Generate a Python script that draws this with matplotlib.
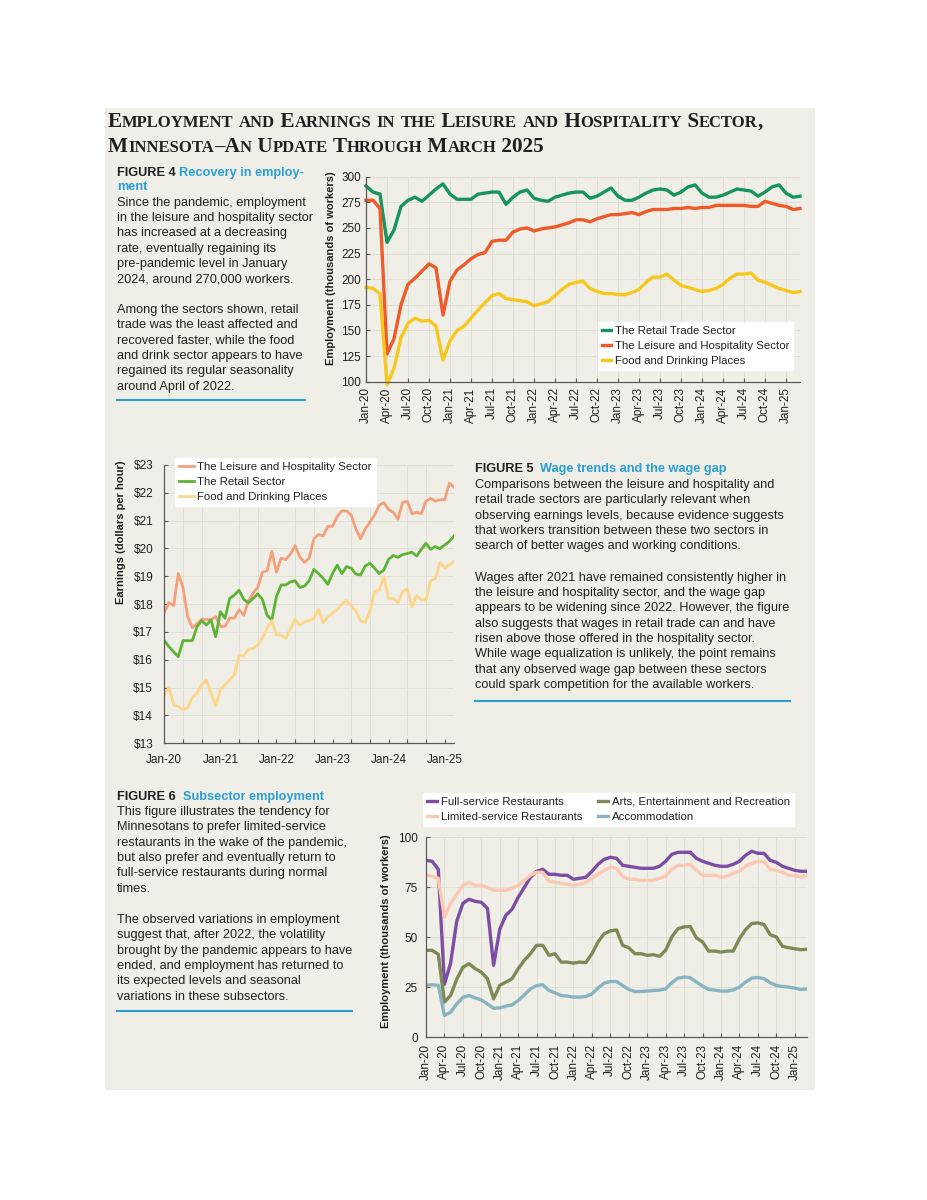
import matplotlib
matplotlib.use('Agg')
import matplotlib.pyplot as plt
from matplotlib.patches import Rectangle
from matplotlib.lines import Line2D

# ---------------- data (monthly, Jan-2020 .. Mar-2025) ----------------
quarter_labels = ['Jan-20', 'Apr-20', 'Jul-20', 'Oct-20', 'Jan-21', 'Apr-21', 'Jul-21', 'Oct-21',
                  'Jan-22', 'Apr-22', 'Jul-22', 'Oct-22', 'Jan-23', 'Apr-23', 'Jul-23', 'Oct-23',
                  'Jan-24', 'Apr-24', 'Jul-24', 'Oct-24', 'Jan-25']
year_labels = ['Jan-20', 'Jan-21', 'Jan-22', 'Jan-23', 'Jan-24', 'Jan-25']

# Figure 4: employment (thousands of workers)
retail_emp = [291, 285, 283, 236, 248, 271, 277, 280, 276, 282, 288, 293,
              283, 278, 278, 278, 283, 284, 285, 285, 273, 280, 285, 287,
              279, 277, 276, 280, 282, 284, 285, 285, 279, 281, 285, 289,
              281, 277, 277, 280, 284, 287, 288, 287, 282, 285, 290, 292,
              284, 280, 280, 282, 285, 288, 287, 286, 281, 285, 290, 292,
              284, 280, 281]
leisure_emp = [277, 277, 269, 127, 142, 175, 195, 201, 208, 215, 211, 165,
               198, 209, 214, 220, 224, 226, 237, 238, 238, 246, 249, 250,
               247, 249, 250, 251, 253, 255, 258, 258, 256, 259, 261, 263,
               263, 264, 265, 263, 266, 268, 268, 268, 269, 269, 270, 269,
               270, 270, 272, 272, 272, 272, 272, 271, 271, 276, 274, 272,
               271, 268, 269]
food_emp = [192, 191, 186, 97, 113, 143, 157, 162, 159, 160, 154, 121,
            140, 150, 154, 162, 170, 177, 184, 186, 181, 180, 179, 178,
            174, 176, 178, 184, 190, 195, 197, 198, 191, 188, 186, 186,
            185, 185, 187, 190, 197, 202, 202, 205, 199, 194, 192, 190,
            188, 189, 191, 195, 201, 205, 205, 206, 199, 197, 194, 191,
            189, 187, 188]

# Figure 5: earnings (dollars per hour)
leisure_wage = [17.7, 18.05, 17.95, 19.1, 18.6, 17.55, 17.15, 17.3, 17.45, 17.45, 17.45, 17.55,
                17.2, 17.2, 17.5, 17.5, 17.8, 17.6, 18.1, 18.4, 18.6, 19.15, 19.2, 19.9,
                19.15, 19.65, 19.6, 19.8, 20.1, 19.7, 19.5, 19.65, 20.35, 20.5, 20.45, 20.8,
                20.8, 21.15, 21.35, 21.35, 21.2, 20.7, 20.35, 20.7, 20.95, 21.2, 21.55, 21.65,
                21.4, 21.3, 21.05, 21.65, 21.7, 21.25, 21.3, 21.25, 21.7, 21.8, 21.7, 21.75,
                21.75, 22.35, 22.2]
retail_wage = [16.69, 16.47, 16.29, 16.11, 16.69, 16.69, 16.69, 17.19, 17.41, 17.25, 17.43, 16.83,
               17.73, 17.49, 18.21, 18.33, 18.5, 18.17, 18.05, 18.2, 18.37, 18.17, 17.6, 17.43,
               18.27, 18.69, 18.69, 18.8, 18.84, 18.6, 18.65, 18.84, 19.25, 19.1, 18.93, 18.71,
               19.1, 19.4, 19.1, 19.35, 19.29, 19.08, 19.05, 19.37, 19.47, 19.29, 19.1, 19.23,
               19.61, 19.75, 19.68, 19.78, 19.82, 19.87, 19.73, 19.97, 20.19, 19.97, 20.07, 19.99,
               20.13, 20.25, 20.45]
food_wage = [14.74, 15.01, 14.38, 14.32, 14.2, 14.29, 14.65, 14.8, 15.1, 15.28, 14.8, 14.34,
             14.92, 15.1, 15.28, 15.46, 16.17, 16.14, 16.38, 16.41, 16.53, 16.77, 17.13, 17.41,
             16.89, 16.89, 16.77, 17.13, 17.45, 17.25, 17.37, 17.41, 17.49, 17.81, 17.33, 17.55,
             17.67, 17.81, 18.0, 18.13, 17.95, 17.75, 17.4, 17.35, 17.75, 18.45, 18.5, 19.0,
             18.2, 18.2, 18.05, 18.45, 18.55, 17.9, 18.3, 18.15, 18.15, 18.85, 18.9, 19.5,
             19.3, 19.4, 19.55]

# Figure 6: subsector employment (thousands of workers)
full_service = [88.5, 88, 84, 26.5, 37, 58, 67, 69, 68, 67.5, 64.5, 36,
                54, 61, 64, 70, 75, 80, 83, 84, 81.5, 81.5, 81, 81,
                79, 79.5, 80, 83, 86.5, 89, 90, 89.5, 86, 85.5, 85, 84.5,
                84.5, 84.5, 85.5, 88, 91.5, 92.5, 92.5, 92.5, 89.5, 88, 87, 86,
                85.5, 85.5, 86.5, 88, 91, 93, 92, 92, 88.5, 87.5, 85.5, 84.5,
                83.5, 83, 83]
limited_service = [81, 80.5, 79.5, 60, 67, 71.5, 76, 77.5, 76, 76, 75, 73.5,
                   73.5, 73.5, 74.5, 76, 78.5, 81, 82.5, 82.5, 78, 77.5, 77, 76.5,
                   76, 76.5, 77.5, 79.5, 81.5, 83.5, 85, 84.5, 80.5, 79, 79, 78.5,
                   78.5, 78.5, 79.5, 80.5, 84, 86, 86, 86.5, 83.5, 81, 81, 81,
                   80, 80.5, 82, 83, 85.5, 87, 88, 88, 84, 83.5, 82.5, 81,
                   81, 80, 81]
arts = [43.5, 43.5, 41.5, 17.6, 20.9, 29, 35, 36.8, 34.3, 32.6, 29.3, 19.2,
        26, 27.6, 29.3, 34.3, 38.5, 41.8, 46, 46, 41, 41.8, 37.6, 37.6,
        37.1, 37.6, 37.3, 41.8, 47.7, 51.8, 53.2, 53.7, 46, 44.8, 41.8, 41.8,
        41, 41.3, 40.5, 43.5, 50.2, 54.3, 55.2, 55.4, 49.7, 47.7, 43.1, 43.1,
        42.6, 43.1, 43.1, 49.3, 53.8, 56.9, 57.2, 56.4, 51.3, 50.2, 45.5, 44.8,
        44.3, 43.8, 44]
accommodation = [26, 26.3, 26, 10.9, 12.5, 16.7, 20, 20.9, 19.7, 18.7, 16.7, 14.5,
                 14.7, 15.6, 16.2, 18.4, 21.2, 24.2, 25.9, 26.3, 23.4, 22.2, 20.9, 20.6,
                 20.1, 20.1, 20.4, 21.7, 24.7, 27.1, 27.9, 27.9, 25.9, 23.9, 22.9, 22.9,
                 23.1, 23.4, 23.6, 24.2, 27.3, 29.6, 30.1, 29.8, 27.6, 25.6, 23.9, 23.6,
                 23.1, 23.1, 23.7, 25.1, 27.6, 29.6, 29.9, 29.3, 27.3, 25.9, 25.4, 25.1,
                 24.6, 23.9, 24.2]

months = list(range(len(retail_emp)))

# ---------------- figure setup ----------------
W, H = 927, 1200
fig = plt.figure(figsize=(9.27, 12), dpi=100)
fig.patch.set_facecolor('white')
SANS = ['Liberation Sans', 'DejaVu Sans']
plt.rcParams['font.family'] = SANS
TXT = '#231f20'
BLUE = '#2a9fd6'
BG = '#f0efe7'


def fx(px):
    return px / W


def fy(py):
    return 1 - py / H


fig.patches.append(Rectangle((fx(105), fy(1090)), fx(815) - fx(105), fy(108) - fy(1090),
                             transform=fig.transFigure, facecolor=BG, edgecolor='none', zorder=-5))

renderer = fig.canvas.get_renderer()


def seq_text(x_px, y_px, segments, va='center'):
    """Place text segments one after another on a line. segments: list of (text, kwargs)."""
    x = fx(x_px)
    items = []
    for s, kw in segments:
        t = fig.text(x, fy(y_px), s, ha='left', va=va, **kw)
        bb = t.get_window_extent(renderer=renderer)
        x = fig.transFigure.inverted().transform((bb.x1, bb.y0))[0]
        items.append(t)
    return items, x * W - x_px


# ---------------- title in small caps ----------------
def sc_runs(s):
    runs = []
    for ch in s:
        big = not ch.islower()
        c = ch.upper()
        if runs and runs[-1][1] == big:
            runs[-1][0] += c
        else:
            runs.append([c, big])
    return runs


def draw_title(x_px, y_px, s, big, small):
    segs = []
    for txt, isbig in sc_runs(s):
        segs.append((txt, dict(fontsize=big if isbig else small, family='Liberation Serif',
                               fontweight='bold', color=TXT)))
    return seq_text(x_px, y_px, segs, va='baseline')


title1 = 'Employment and Earnings in the Leisure and Hospitality Sector,'
title2 = 'Minnesota\u2013An Update Through March 2025'
items, w = draw_title(108, 127, title1, 16, 12.5)
for t in items:
    t.remove()
scale = 654.0 / w
draw_title(108, 127, title1, 16 * scale, 12.5 * scale)
draw_title(108, 152, title2, 16 * scale, 12.5 * scale)

# ---------------- body text blocks ----------------
BODY = 9.2
bold_k = dict(fontsize=BODY, fontweight='bold', color=TXT)
blue_k = dict(fontsize=BODY, fontweight='bold', color=BLUE)
body_k = dict(fontsize=BODY, color=TXT)


def block(x_px, ys, head_num, head_title, lines, rule_y, rule_x1, head2=None):
    seq_text(x_px, ys[0], [(head_num, bold_k), (head_title, blue_k)])
    start = 1
    if head2 is not None:
        fig.text(fx(x_px), fy(ys[1]), head2, ha='left', va='center', **blue_k)
        start = 2
    for y, ln in zip(ys[start:], lines):
        fig.text(fx(x_px), fy(y), ln, ha='left', va='center', **body_k)
    fig.add_artist(Line2D([fx(x_px), fx(rule_x1)], [fy(rule_y), fy(rule_y)],
                          transform=fig.transFigure, color=BLUE, lw=1.5))


fig4_lines = ['Since the pandemic, employment',
              'in the leisure and hospitality sector',
              'has increased at a decreasing',
              'rate, eventually regaining its',
              'pre-pandemic level in January',
              '2024, around 270,000 workers.',
              'Among the sectors shown, retail',
              'trade was the least affected and',
              'recovered faster, while the food',
              'and drink sector appears to have',
              'regained its regular seasonality',
              'around April of 2022.']
fig4_y = [172.7, 187.3, 202.7, 218, 233.3, 248.7, 264, 279.3,
          310, 325.3, 340.7, 356, 371.3, 386.7]
block(117, fig4_y, 'FIGURE 4 ', 'Recovery in employ-', fig4_lines, 400, 305, head2='ment')

fig5_lines = ['Comparisons between the leisure and hospitality and',
              'retail trade sectors are particularly relevant when',
              'observing earnings levels, because evidence suggests',
              'that workers transition between these two sectors in',
              'search of better wages and working conditions.',
              'Wages after 2021 have remained consistently higher in',
              'the leisure and hospitality sector, and the wage gap',
              'appears to be widening since 2022. However, the figure',
              'also suggests that wages in retail trade can and have',
              'risen above those offered in the hospitality sector.',
              'While wage equalization is unlikely, the point remains',
              'that any observed wage gap between these sectors',
              'could spark competition for the available workers.']
fig5_y = [469, 485, 500, 515.7, 531, 546.3, 577.7, 593, 608.3, 623.7, 639, 654.3, 670, 685]
block(475, fig5_y, 'FIGURE 5  ', 'Wage trends and the wage gap', fig5_lines, 701, 790)

fig6_lines = ['This figure illustrates the tendency for',
              'Minnesotans to prefer limited-service',
              'restaurants in the wake of the pandemic,',
              'but also prefer and eventually return to',
              'full-service restaurants during normal',
              'times.',
              'The observed variations in employment',
              'suggest that, after 2022, the volatility',
              'brought by the pandemic appears to have',
              'ended, and employment has returned to',
              'its expected levels and seasonal',
              'variations in these subsectors.']
fig6_y = [796.7, 812, 827.3, 842.7, 858, 873.3, 888.7, 920, 935.3, 950.7, 966, 981.3, 996.7]
block(117, fig6_y, 'FIGURE 6  ', 'Subsector employment', fig6_lines, 1010.7, 352)


# ---------------- charts ----------------
def add_ax(left, top, right, bottom):
    return fig.add_axes([fx(left), fy(bottom), fx(right) - fx(left), fy(top) - fy(bottom)])


GRID = '#dddcd3'


def style(ax, xpad=3, ypad=3, labelsize=8.5):
    ax.set_facecolor('none')
    for s in ['top', 'right']:
        ax.spines[s].set_visible(False)
    for s in ['left', 'bottom']:
        ax.spines[s].set_color('#5a5a5a')
        ax.spines[s].set_linewidth(0.9)
    ax.tick_params(which='both', direction='in', length=3, width=0.8, colors='#5a5a5a',
                   labelcolor=TXT, labelsize=labelsize)
    ax.tick_params(axis='x', pad=xpad)
    ax.tick_params(axis='y', pad=ypad)
    ax.set_axisbelow(True)


def ylabel(ax, text, x_px, y_px, left, right, top, bottom):
    # label anchor is its right edge (bottom before rotation); shift by half its height
    ax.set_ylabel(text, fontsize=8, fontweight='bold', color=TXT)
    x_anchor = x_px + 4.5
    ax.yaxis.set_label_coords((x_anchor - left) / (right - left), (bottom - y_px) / (bottom - top))


def legend(ax, handles, labels, x_px, y_px, ncol=1, fs=8.2, hl=0.8, hp=0.35, cs=1.3):
    lg = ax.legend(handles, labels, loc='upper left', bbox_to_anchor=(fx(x_px), fy(y_px)),
                   bbox_transform=fig.transFigure, frameon=True, fancybox=False,
                   framealpha=1, facecolor='white', edgecolor='white', fontsize=fs,
                   handlelength=hl, handletextpad=hp, borderpad=0.35, labelspacing=0.42,
                   columnspacing=cs, borderaxespad=0, ncol=ncol)
    for t in lg.get_texts():
        t.set_color(TXT)
    return lg


# Figure 4
L4, R4, T4, B4 = 366, 800, 176.7, 381.7
ax4 = add_ax(L4, T4, R4, B4)
style(ax4, xpad=4, ypad=3.5)
h1, = ax4.plot(months, retail_emp, color='#17945e', lw=2.4, clip_on=False, solid_joinstyle='round')
h2, = ax4.plot(months, leisure_emp, color='#ef5a2a', lw=2.4, clip_on=False, solid_joinstyle='round')
h3, = ax4.plot(months, food_emp, color='#f8c71d', lw=2.4, clip_on=False, solid_joinstyle='round')
ax4.set_xlim(0, 62)
ax4.set_ylim(100, 300)
ax4.set_yticks(range(100, 301, 25))
ax4.set_xticks(range(0, 61, 3))
ax4.set_xticklabels(quarter_labels, rotation=90)
ax4.grid(True, color=GRID, lw=0.6)
ylabel(ax4, 'Employment (thousands of workers)', 331.7, 268.5, L4, R4, T4, B4)
legend(ax4, [h1, h2, h3], ['The Retail Trade Sector', 'The Leisure and Hospitality Sector',
                           'Food and Drinking Places'], 598, 322)

# Figure 5
L5, R5, T5, B5 = 164.3, 454, 465, 743.3
ax5 = add_ax(L5, T5, R5, B5)
style(ax5, xpad=8, ypad=8)
g1, = ax5.plot(months, leisure_wage, color='#f5a07c', lw=2.0, solid_joinstyle='round')
g2, = ax5.plot(months, retail_wage, color='#5db336', lw=2.0, solid_joinstyle='round')
g3, = ax5.plot(months, food_wage, color='#fdd689', lw=2.0, solid_joinstyle='round')
ax5.set_xlim(0, 62)
ax5.set_ylim(13, 23)
ax5.set_yticks(range(13, 24))
ax5.set_yticklabels(['$%d' % v for v in range(13, 24)])
ax5.set_xticks(range(0, 61, 12))
ax5.set_xticklabels(year_labels)
ax5.set_xticks(range(0, 63, 4), minor=True)
ax5.grid(True, which='major', axis='y', color=GRID, lw=0.6)
ax5.grid(True, which='minor', axis='x', color=GRID, lw=0.6)
ylabel(ax5, 'Earnings (dollars per hour)', 121.7, 532, L5, R5, T5, B5)
legend(ax5, [g1, g2, g3], ['The Leisure and Hospitality Sector', 'The Retail Sector',
                           'Food and Drinking Places'], 175, 458, hl=1.3, hp=0.3)

# Figure 6
L6, R6, T6, B6 = 426, 807, 837.3, 1037.3
ax6 = add_ax(L6, T6, R6, B6)
style(ax6, xpad=5, ypad=6)
k1, = ax6.plot(months, full_service, color='#7b4ea3', lw=2.4, solid_joinstyle='round')
k2, = ax6.plot(months, limited_service, color='#fbc8b4', lw=2.4, solid_joinstyle='round')
k3, = ax6.plot(months, arts, color='#7e8a56', lw=2.4, solid_joinstyle='round')
k4, = ax6.plot(months, accommodation, color='#88b4c2', lw=2.4, solid_joinstyle='round')
ax6.set_xlim(0, 62)
ax6.set_ylim(0, 100)
ax6.set_yticks(range(0, 101, 25))
ax6.set_xticks(range(0, 61, 3))
ax6.set_xticklabels(quarter_labels, rotation=90)
ax6.grid(True, color=GRID, lw=0.6)
ylabel(ax6, 'Employment (thousands of workers)', 386.7, 931.5, L6, R6, T6, B6)
legend(ax6, [k1, k2, k3, k4], ['Full-service Restaurants', 'Limited-service Restaurants',
                               'Arts, Entertainment and Recreation', 'Accommodation'],
       423, 793, ncol=2, hl=0.9)

fig.savefig('out.png', dpi=100, facecolor='white')
